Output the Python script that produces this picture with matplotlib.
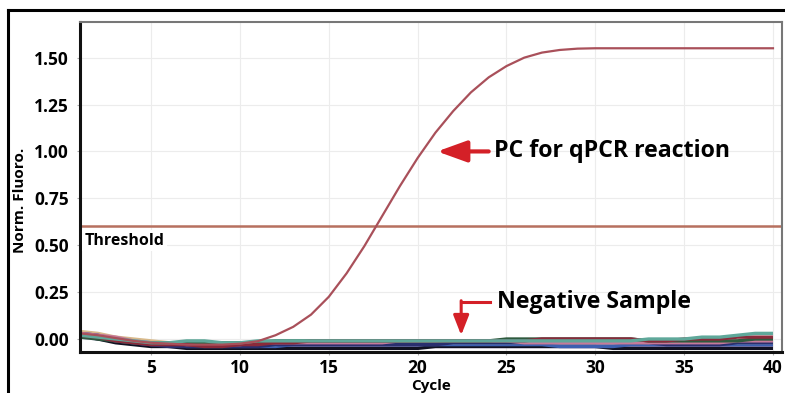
import numpy as np
import matplotlib.pyplot as plt
from matplotlib.lines import Line2D

plt.rcParams['font.family'] = ['Open Sans', 'DejaVu Sans']
plt.rcParams['font.weight'] = 'bold'

# cycles
cycles = list(range(1, 41))

# positive control (PC) curve
pc = [0.03, 0.02, 0.005, -0.01, -0.02, -0.025, -0.03, -0.03, -0.03, -0.025,
      -0.012, 0.02, 0.065, 0.13, 0.225, 0.35, 0.495, 0.655, 0.815, 0.965,
      1.10, 1.215, 1.315, 1.395, 1.455, 1.50, 1.527, 1.541, 1.548, 1.55,
      1.55, 1.55, 1.55, 1.55, 1.55, 1.55, 1.55, 1.55, 1.55, 1.55]

threshold = 0.60

# negative samples (all flat near zero)
neg_teal = [0.02, 0.01, 0.0, -0.01, -0.02, -0.02, -0.01, -0.01, -0.02, -0.02,
            -0.01, -0.01, -0.01, -0.01, -0.01, -0.01, -0.01, -0.01, -0.01, -0.01,
            -0.01, -0.01, -0.01, -0.01, -0.01, -0.01, -0.01, -0.01, -0.01, -0.01,
            -0.01, -0.01, 0.0, 0.0, 0.0, 0.01, 0.01, 0.02, 0.03, 0.03]
neg_navy = [0.03, 0.02, 0.0, -0.02, -0.03, -0.04, -0.04, -0.04, -0.04, -0.04,
            -0.04, -0.03, -0.03, -0.03, -0.03, -0.03, -0.03, -0.03, -0.03, -0.03,
            -0.03, -0.02, -0.02, -0.02, -0.02, -0.02, -0.02, -0.02, -0.02, -0.02,
            -0.02, -0.02, -0.02, -0.03, -0.03, -0.03, -0.03, -0.02, -0.02, -0.02]
neg_maroon = [0.02, 0.01, -0.01, -0.02, -0.03, -0.03, -0.03, -0.04, -0.04, -0.03,
              -0.03, -0.02, -0.02, -0.01, -0.01, -0.01, -0.01, -0.01, -0.01, -0.01,
              -0.01, -0.01, -0.01, -0.01, -0.01, -0.01, 0.0, 0.0, 0.0, 0.0,
              0.0, 0.0, -0.01, -0.01, 0.0, 0.0, 0.0, 0.01, 0.01, 0.01]
neg_green = [0.01, 0.0, -0.01, -0.02, -0.02, -0.02, -0.02, -0.02, -0.02, -0.02,
             -0.02, -0.01, -0.01, -0.01, -0.01, -0.01, -0.01, -0.01, -0.01, -0.01,
             -0.01, -0.01, -0.01, -0.01, 0.0, 0.0, 0.0, 0.0, 0.0, 0.0,
             0.0, 0.0, -0.01, -0.01, -0.01, -0.01, -0.01, -0.01, 0.0, 0.0]
neg_pink = [0.03, 0.02, 0.01, -0.01, -0.02, -0.02, -0.03, -0.03, -0.03, -0.03,
            -0.02, -0.02, -0.02, -0.02, -0.02, -0.02, -0.02, -0.02, -0.01, -0.01,
            -0.01, -0.01, -0.01, -0.01, -0.01, -0.02, -0.02, -0.02, -0.02, -0.02,
            -0.02, -0.02, -0.02, -0.02, -0.02, -0.02, -0.02, -0.01, -0.01, -0.01]
neg_tan = [0.04, 0.03, 0.01, 0.0, -0.01, -0.02, -0.02, -0.02, -0.02, -0.02,
           -0.02, -0.02, -0.02, -0.02, -0.02, -0.02, -0.02, -0.02, -0.02, -0.02,
           -0.02, -0.02, -0.02, -0.02, -0.02, -0.02, -0.02, -0.02, -0.02, -0.02,
           -0.02, -0.03, -0.03, -0.03, -0.03, -0.03, -0.03, -0.03, -0.03, -0.03]
neg_blue = [0.02, 0.01, -0.01, -0.02, -0.03, -0.03, -0.04, -0.04, -0.04, -0.04,
            -0.04, -0.04, -0.03, -0.03, -0.03, -0.03, -0.03, -0.03, -0.03, -0.03,
            -0.03, -0.03, -0.03, -0.03, -0.03, -0.03, -0.03, -0.04, -0.04, -0.04,
            -0.04, -0.03, -0.03, -0.03, -0.03, -0.03, -0.03, -0.03, -0.03, -0.03]
neg_black = [0.02, 0.0, -0.02, -0.03, -0.04, -0.04, -0.05, -0.05, -0.05, -0.05,
             -0.05, -0.05, -0.05, -0.05, -0.05, -0.05, -0.05, -0.05, -0.05, -0.05,
             -0.04, -0.04, -0.04, -0.04, -0.04, -0.04, -0.04, -0.04, -0.04, -0.04,
             -0.05, -0.05, -0.05, -0.05, -0.05, -0.05, -0.05, -0.05, -0.05, -0.05]
neg_lilac = [0.01, 0.0, -0.01, -0.02, -0.03, -0.03, -0.03, -0.04, -0.04, -0.04,
             -0.04, -0.04, -0.04, -0.04, -0.04, -0.04, -0.04, -0.04, -0.04, -0.04,
             -0.04, -0.04, -0.04, -0.04, -0.04, -0.04, -0.04, -0.04, -0.04, -0.04,
             -0.04, -0.04, -0.04, -0.04, -0.04, -0.04, -0.04, -0.04, -0.04, -0.04]
neg_lightblue = [0.03, 0.02, 0.0, -0.01, -0.02, -0.03, -0.03, -0.03, -0.03, -0.03,
                 -0.03, -0.03, -0.02, -0.02, -0.02, -0.02, -0.02, -0.02, -0.02, -0.02,
                 -0.02, -0.02, -0.02, -0.02, -0.02, -0.02, -0.02, -0.02, -0.02, -0.02,
                 -0.02, -0.02, -0.02, -0.02, -0.02, -0.02, -0.02, -0.02, -0.02, -0.02]

negatives = [neg_tan, neg_lilac, neg_black, neg_blue, neg_lightblue, neg_navy,
             neg_pink, neg_green, neg_maroon, neg_teal]
neg_colors = ['#d8b98a', '#a99ad0', '#111122', '#3d5fb0', '#8fb2d8', '#2a2f6e',
              '#c77a9a', '#2e5a3e', '#8a2a3a', '#5fa89a']

fig = plt.figure(figsize=(7.85, 3.93), dpi=100)
ax = fig.add_axes([0.102, 0.104, 0.894, 0.840])

ax.grid(True, color='#ececec', linewidth=0.8)
ax.set_axisbelow(True)

for vals, c in zip(negatives, neg_colors):
    ax.plot(cycles, vals, color=c, linewidth=2.4, solid_capstyle='butt')

ax.axhline(threshold, color='#b7705f', linewidth=1.8)
ax.plot(cycles, pc, color='#a9505a', linewidth=1.6)

ax.text(1.25, 0.524, 'Threshold', fontsize=11.5, fontweight='bold', va='center', ha='left',
        bbox=dict(facecolor='white', edgecolor='none', pad=2))

ax.set_xlim(1, 40.5)
ax.set_ylim(-0.07, 1.69)
ax.set_xticks([5, 10, 15, 20, 25, 30, 35, 40])
ax.set_yticks([0.0, 0.25, 0.5, 0.75, 1.0, 1.25, 1.5])
ax.set_yticklabels(['0.00', '0.25', '0.50', '0.75', '1.00', '1.25', '1.50'])
ax.tick_params(labelsize=12.5, length=2, color='#aaaaaa')
ax.tick_params(axis='y', pad=6)
ax.tick_params(axis='x', pad=3)
for lab in ax.get_xticklabels() + ax.get_yticklabels():
    lab.set_fontweight('bold')

# axis titles placed in figure coordinates
fig.text(431 / 785, 1 - 379 / 393, 'Cycle', fontsize=11, fontweight='bold',
         ha='center', va='top')
fig.text(20 / 785, 1 - 200 / 393, 'Norm. Fluoro.', fontsize=11, fontweight='bold',
         ha='center', va='center', rotation=90)

for s in ['left', 'bottom']:
    ax.spines[s].set_color('#111111')
    ax.spines[s].set_linewidth(2.2)
for s in ['top', 'right']:
    ax.spines[s].set_color('#777777')
    ax.spines[s].set_linewidth(1.5)

red = '#d42027'
# PC annotation
ax.annotate('', xy=(21.1, 1.0), xytext=(24.0, 1.0),
            arrowprops=dict(arrowstyle='-|>,head_length=1.8,head_width=0.65',
                            color=red, lw=3, shrinkA=0, shrinkB=0))
ax.text(24.3, 1.0, 'PC for qPCR reaction', fontsize=16.7, fontweight='bold',
        va='center', ha='left')

# Negative sample annotation
ax.plot([22.45, 24.1], [0.198, 0.198], color=red, linewidth=2.2)
ax.annotate('', xy=(22.45, 0.02), xytext=(22.45, 0.204),
            arrowprops=dict(arrowstyle='-|>,head_length=1.2,head_width=0.47',
                            color=red, lw=2.2, shrinkA=0, shrinkB=0))
ax.text(24.45, 0.198, 'Negative Sample', fontsize=16.7, fontweight='bold',
        va='center', ha='left')

# outer frame lines
fig.add_artist(Line2D([0.0102, 1.0], [0.9746, 0.9746], color='black', linewidth=2.2))
fig.add_artist(Line2D([0.0102, 0.0102], [0.0, 0.9746], color='black', linewidth=2.2))

plt.savefig('out.png', dpi=100)
